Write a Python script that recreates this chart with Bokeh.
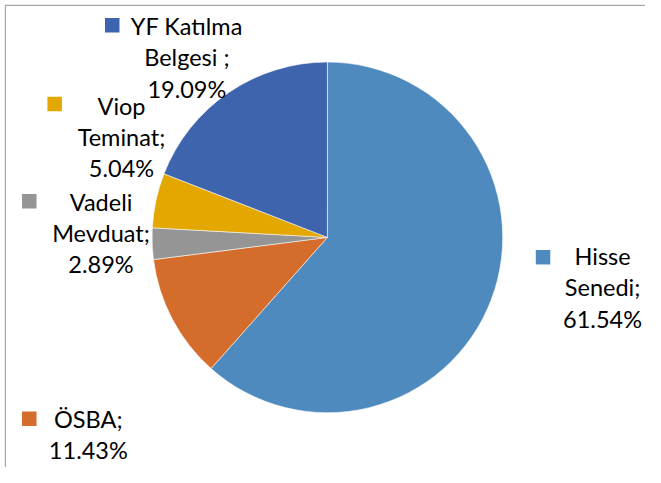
import math
from bokeh.plotting import figure
from bokeh.models import ColumnDataSource, Range1d
from bokeh.core.properties import value
from bokeh.embed import file_html
from bokeh.resources import INLINE

# ---- data ----
categories = ["Hisse Senedi", "ÖSBA", "Vadeli Mevduat", "Viop Teminat", "YF Katılma Belgesi"]
shares = [61.54, 11.43, 2.89, 5.04, 19.09]
name_lines = [["Hisse", "Senedi;"], ["ÖSBA;"], ["Vadeli", "Mevduat;"], ["Viop", "Teminat;"], ["YF Katılma", "Belgesi ;"]]
colors = ["#4F8ABE", "#D46C2B", "#959595", "#E3A700", "#3D64AD"]

# ---- layout (reference pixel coords, scaled to figure) ----
W, H = 645, 467
SX, SY = W / 661.0, H / 483.0
def px(X):
    return X * SX
def py(Y):
    return H - Y * SY

cx, cy, R = 335, 245, 180.5
label_cx = [617, 90, 103, 124, 191]
# vertical centres of first text line (cap-centre)
label_mid = [264.5, 433, 208, 109, 26.5]
line_step = 32.3
key_pos = [(556, 265.5), (29.5, 432.5), (29.5, 207.5), (55.5, 107), (114.5, 25.5)]

p = figure(width=W, height=H, output_backend="svg", toolbar_location=None,
           x_range=Range1d(0, W), y_range=Range1d(0, H), min_border=0)
p.axis.visible = False
p.grid.visible = False
p.outline_line_color = None
p.background_fill_color = "white"

total = sum(shares)
starts, ends = [], []
acc = 0.0
for v in shares:
    starts.append(math.pi / 2 - 2 * math.pi * acc / total)
    acc += v
    ends.append(math.pi / 2 - 2 * math.pi * acc / total)

src = ColumnDataSource(dict(start=starts, end=ends, color=colors, cat=categories))
p.wedge(x=px(cx), y=py(cy), radius=R * (SX + SY) / 2, start_angle="start", end_angle="end",
        direction="clock", fill_color="color", line_color="white", line_width=0.8,
        line_alpha=0.7, source=src)

# labels
tx, ty, tt = [], [], []
for i, v in enumerate(shares):
    lines = name_lines[i] + [f"{v:.2f}%"]
    for j, t in enumerate(lines):
        tx.append(px(label_cx[i]))
        ty.append(py(label_mid[i] + j * line_step))
        tt.append(t)
p.text(x=tx, y=ty, text=tt, text_font=value("Lato"), text_font_size="23.5px",
       text_align="center", text_baseline="middle", text_color="#000000")

# legend keys
p.scatter(x=[px(k[0]) for k in key_pos], y=[py(k[1]) for k in key_pos], marker="square",
          size=14.5, fill_color=colors, line_color=None)

# frame (top and left)
p.line(x=[px(5), px(5), W], y=[0, py(5), py(5)], line_color="#A6A6A6", line_width=1.2)

open("out.html", "w").write(file_html(p, INLINE))
